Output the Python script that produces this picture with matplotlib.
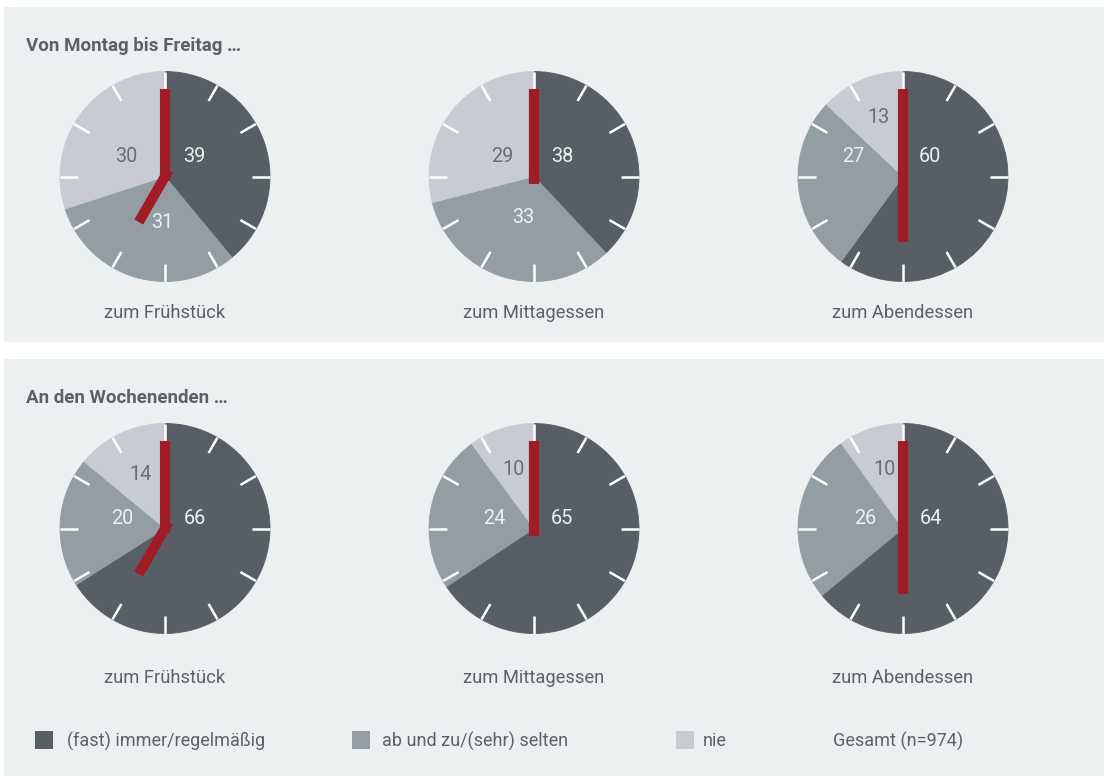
"""Clock-style pies: how often meals are eaten together, weekday vs weekend."""
import matplotlib
matplotlib.use("Agg")
import matplotlib.pyplot as plt
import numpy as np
from matplotlib.patches import Rectangle

plt.rcParams["font.family"] = ["Roboto", "DejaVu Sans"]

# --- data -------------------------------------------------------------
MEALS = ["zum Frühstück", "zum Mittagessen", "zum Abendessen"]
PANEL_TITLES = ["Von Montag bis Freitag …", "An den Wochenenden …"]
CATEGORIES = ["(fast) immer/regelmäßig", "ab und zu/(sehr) selten", "nie"]
WEEKDAY = [[39, 31, 30], [38, 33, 29], [60, 27, 13]]
WEEKEND = [[66, 20, 14], [65, 24, 10], [64, 26, 10]]
HAND_HOURS = [7, 12, 6]          # hour hand per meal (minute hand at 12)
NOTE = "Gesamt (n=974)"

# --- style ------------------------------------------------------------
W, H = 1104, 776
BG = "#edf0f1"
COLORS = ["#575f64", "#939da2", "#c8ccd2"]
NUM_COLORS = ["#eef0f1", "#eef0f1", "#686e73"]
RED = "#a11c24"
TXT = "#5b6267"
R = 105  # clock radius in px
CX = [165, 534, 903]
CY = [176.5, 528.5]
LABEL_Y = [313, 678]
TITLE_Y = [46, 398]
# number label offsets (in clock radii) per panel / meal / slice
OFFS = [
    [[(0.28, 0.19), (-0.03, -0.44), (-0.37, 0.19)],
     [(0.27, 0.19), (-0.10, -0.39), (-0.30, 0.19)],
     [(0.26, 0.19), (-0.47, 0.19), (-0.23, 0.56)]],
    [[(0.28, 0.10), (-0.41, 0.10), (-0.23, 0.51)],
     [(0.27, 0.10), (-0.38, 0.10), (-0.20, 0.56)],
     [(0.27, 0.10), (-0.36, 0.10), (-0.18, 0.56)]],
]
HOUR_LEN = {7: 0.50, 12: 0.05, 6: 0.62}

fig = plt.figure(figsize=(W / 100, H / 100), dpi=100)
fig.patch.set_facecolor("white")

# panel backgrounds
for y0, y1 in [(7, 342), (359, 776)]:
    fig.patches.append(Rectangle((4 / W, 1 - y1 / H), 1 - 4 / W, (y1 - y0) / H,
                                 transform=fig.transFigure, facecolor=BG,
                                 edgecolor="none", zorder=-5))


def draw_clock(cx, cy, vals, offs, hour):
    s = 1.25
    ax = fig.add_axes([(cx - s * R) / W, 1 - (cy + s * R) / H,
                       2 * s * R / W, 2 * s * R / H])
    ax.patch.set_alpha(0)
    ax.pie(vals, colors=COLORS, startangle=90, counterclock=False, radius=1,
           wedgeprops=dict(linewidth=0.6))
    for w, c in zip(ax.patches, COLORS):
        w.set_edgecolor(c)
    # hour ticks
    for k in range(12):
        a = np.deg2rad(90 - 30 * k)
        ax.plot([0.83 * np.cos(a), 1.0 * np.cos(a)],
                [0.83 * np.sin(a), 1.0 * np.sin(a)],
                color="white", lw=1.8, solid_capstyle="butt", zorder=3)
    # numbers
    for v, (dx, dy), nc in zip(vals, offs, NUM_COLORS):
        ax.text(dx, dy, str(v), ha="center", va="center", fontsize=14.3,
                color=nc, zorder=4)
    # hands
    ax.plot([0, 0], [-0.04, 0.83], color=RED, lw=7.3,
            solid_capstyle="butt", zorder=5)
    a = np.deg2rad(90 - 30 * hour)
    hl = HOUR_LEN.get(hour, 0.5)
    ax.plot([-0.07 * np.cos(a), hl * np.cos(a)],
            [-0.07 * np.sin(a), hl * np.sin(a)], color=RED, lw=7.3,
            solid_capstyle="butt", zorder=5)
    ax.set_xlim(-s, s)
    ax.set_ylim(-s, s)
    ax.set_aspect("equal")
    ax.axis("off")


for p, data in enumerate([WEEKDAY, WEEKEND]):
    fig.text(26 / W, 1 - TITLE_Y[p] / H, PANEL_TITLES[p], ha="left",
             va="center", fontsize=13.5, fontweight="bold", color=TXT)
    for m, vals in enumerate(data):
        draw_clock(CX[m], CY[p], vals, OFFS[p][m], HAND_HOURS[m])
        fig.text(CX[m] / W, 1 - LABEL_Y[p] / H, MEALS[m], ha="center",
                 va="center", fontsize=13.2, color=TXT)

# legend
for x_sq, x_t, lab, c in zip([35, 352, 676], [67, 382, 703], CATEGORIES, COLORS):
    fig.patches.append(Rectangle((x_sq / W, 1 - 749 / H), 18 / W, 18 / H,
                                 transform=fig.transFigure, facecolor=c,
                                 edgecolor="none"))
    fig.text(x_t / W, 1 - 741 / H, lab, ha="left", va="center",
             fontsize=13, color=TXT)
fig.text(833 / W, 1 - 741 / H, NOTE, ha="left", va="center",
         fontsize=13, color=TXT)

fig.savefig("out.png", dpi=100, facecolor=fig.get_facecolor())
